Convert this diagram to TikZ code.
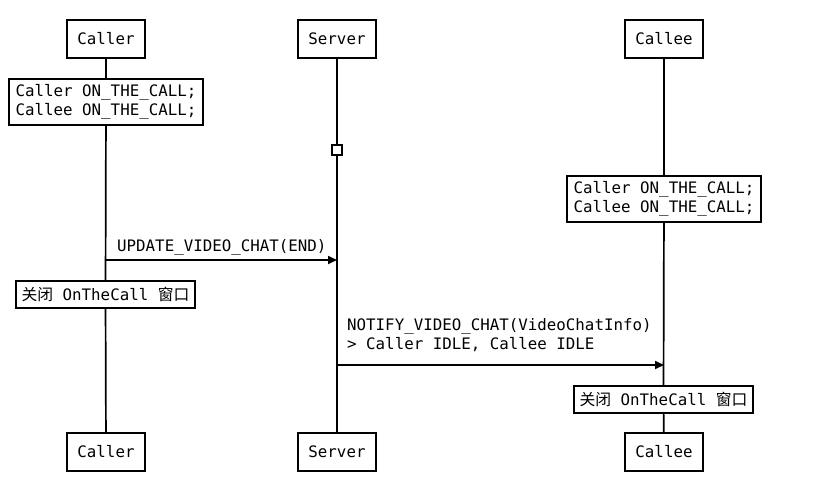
\documentclass[tikz,border=0pt]{standalone}
\usepackage{fontspec}
\setmonofont{DejaVu Sans Mono}
\newfontfamily\cjk{Noto Sans CJK SC}
\usetikzlibrary{arrows.meta}
\begin{document}
\begin{tikzpicture}[x=1pt,y=-1pt,
  every node/.style={font=\ttfamily\fontsize{15.8}{19}\selectfont},
  actor/.style={draw,line width=1.7pt,minimum width=78pt,minimum height=38pt,inner sep=0pt},
  statebox/.style={draw,line width=1.7pt,minimum width=194pt,minimum height=46pt,inner sep=0pt,align=left},
  closebox/.style={draw,line width=1.7pt,minimum width=179pt,minimum height=27pt,inner sep=0pt},
  life/.style={line width=1.7pt},
  msg/.style={line width=1.7pt,-{Triangle[length=9pt,width=8pt]}},
  lbl/.style={inner sep=0pt,align=left}]
\useasboundingbox (0,0) rectangle (839,491);
\node[actor] (callerT) at (106,39) {Caller};
\node[actor] (serverT) at (337,39) {Server};
\node[actor] (calleeT) at (664,39) {Callee};
\node[actor] (callerB) at (106,452) {Caller};
\node[actor] (serverB) at (337,452) {Server};
\node[actor] (calleeB) at (664,452) {Callee};
\node[statebox] (stA) at (106,102) {Caller ON\_THE\_CALL;\\Callee ON\_THE\_CALL;};
\node[statebox] (stB) at (664,199) {Caller ON\_THE\_CALL;\\Callee ON\_THE\_CALL;};
\node[draw,line width=1.7pt,minimum size=10pt,inner sep=0pt] (sq) at (337,150) {};
\node[closebox] (cl1) at (105.5,294.5) {{\cjk 关闭} OnTheCall {\cjk 窗口}};
\node[closebox] (cl2) at (663.5,399.5) {{\cjk 关闭} OnTheCall {\cjk 窗口}};
\draw[life] (callerT) -- (stA) -- (cl1) -- (callerB);
\draw[life] (serverT) -- (sq) -- (serverB);
\draw[life] (calleeT) -- (stB) -- (cl2) -- (calleeB);
\coordinate (m1s) at (106,260);
\coordinate (m1e) at (337,260);
\coordinate (m2s) at (337,365);
\coordinate (m2e) at (664,365);
\draw[msg] (m1s) -- (m1e);
\draw[msg] (m2s) -- (m2e);
\node[lbl,anchor=base west] (l1) at (117,251) {UPDATE\_VIDEO\_CHAT(END)};
\node[lbl,anchor=south west] (l2) at (347,352) {NOTIFY\_VIDEO\_CHAT(VideoChatInfo)\\> Caller IDLE, Callee IDLE};
\end{tikzpicture}
\end{document}
